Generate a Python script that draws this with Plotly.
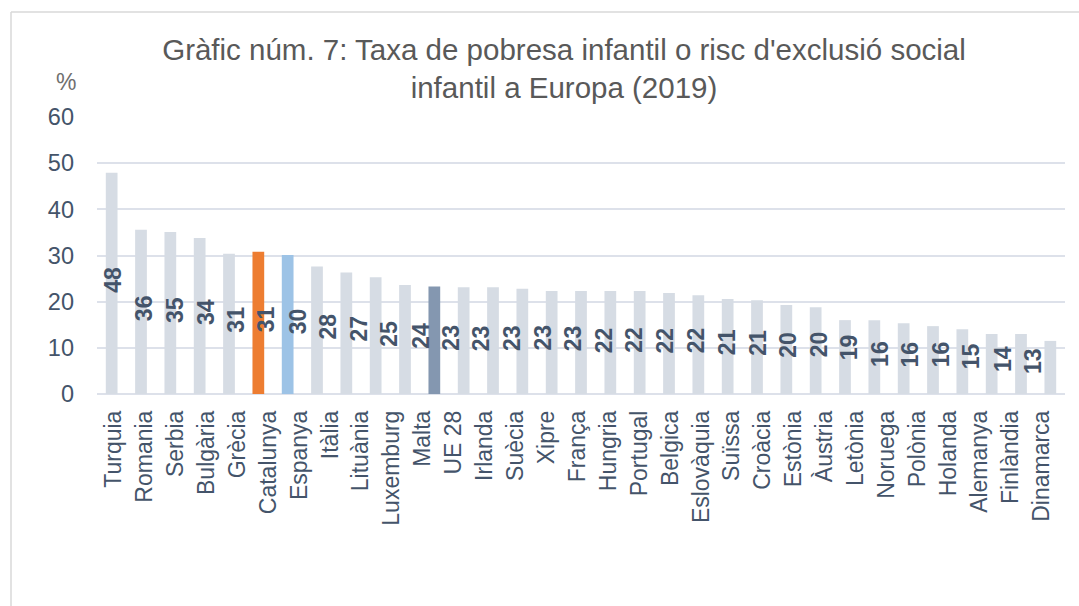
import plotly.graph_objects as go

# ---------------- data ----------------
countries = ["Turquia", "Romania", "Serbia", "Bulgària", "Grècia", "Catalunya", "Espanya",
             "Itàlia", "Lituània", "Luxemburg", "Malta", "UE 28", "Irlanda", "Suècia", "Xipre",
             "França", "Hungria", "Portugal", "Belgica", "Eslovàquia", "Suïssa", "Croàcia",
             "Estònia", "Àustria", "Letònia", "Noruega", "Polònia", "Holanda", "Alemanya",
             "Finlàndia", "Dinamarca"]
label_values = [48, 36, 35, 34, 31, 31, 30, 28, 27, 25, 24, 23, 23, 23, 23, 23, 22, 22, 22, 22,
                21, 21, 20, 20, 19, 16, 16, 16, 15, 14, 13]
bar_values = [47.9, 35.6, 35.1, 33.8, 30.4, 30.8, 30.1, 27.6, 26.3, 25.3, 23.6, 23.3, 23.1, 23.1,
              22.8, 22.3, 22.3, 22.3, 22.3, 21.9, 21.4, 20.6, 20.3, 19.3, 18.8, 16.0, 16.0, 15.3,
              14.7, 14.0, 13.0, 13.0, 11.5]
highlight = {5: "#ED7D31", 6: "#9DC3E6", 11: "#8497B0"}
y_ticks = [0, 10, 20, 30, 40, 50, 60]

# ---------------- layout constants ----------------
W, H = 1079, 606
L, R, T, B = 97, 14, 117, 212
PW, PH = W - L - R, H - T - B

def px_x(px):
    return (px - L) / PW

def px_y(py):
    return (H - B - py) / PH

base = "#D6DCE4"
colors = [highlight.get(i, base) for i in range(len(bar_values))]
txt = "#44546A"
font_family = "Liberation Sans, Arial, sans-serif"

fig = go.Figure()
fig.add_trace(go.Bar(x=list(range(len(bar_values))), y=bar_values, marker_color=colors,
                     marker_line_width=0, xaxis="x", yaxis="y", hoverinfo="skip"))
# invisible trace to anchor the category label axis
fig.add_trace(go.Scatter(x=list(range(len(countries))), y=[0] * len(countries), mode="markers",
                         marker=dict(opacity=0), xaxis="x2", yaxis="y", hoverinfo="skip"))

annotations = []
for i, v in enumerate(label_values):
    annotations.append(dict(x=i, y=v / 2, xref="x2", yref="y", text=f"<b>{v}</b>",
                            textangle=-90, showarrow=False, xshift=-0.27 * i, yshift=3,
                            xanchor="center", yanchor="middle",
                            font=dict(size=23, color=txt, family=font_family)))
annotations.append(dict(x=px_x(66), y=px_y(82), xref="paper", yref="paper", text="%",
                        showarrow=False, xanchor="center", yanchor="middle",
                        font=dict(size=23, color="#6F6F6F", family=font_family)))

shapes = [
    dict(type="line", xref="paper", yref="paper", x0=px_x(11), x1=px_x(W + 5),
         y0=px_y(12), y1=px_y(12), line=dict(color="#D9D9D9", width=1.5)),
    dict(type="line", xref="paper", yref="paper", x0=px_x(11), x1=px_x(11),
         y0=px_y(12), y1=px_y(H + 5), line=dict(color="#D9D9D9", width=1.5)),
]

fig.update_layout(
    width=W, height=H,
    margin=dict(l=L, r=R, t=T, b=B),
    paper_bgcolor="white", plot_bgcolor="white",
    showlegend=False,
    bargap=0.6,
    title=dict(text="Gràfic núm. 7: Taxa de pobresa infantil o risc d'exclusió social<br>infantil a Europa (2019)",
               x=564 / W, xref="container", xanchor="center",
               y=1 - 60 / H, yref="container", yanchor="top",
               font=dict(size=29.5, color="#595959", family=font_family)),
    xaxis=dict(range=[-0.5, len(bar_values) - 0.5], showticklabels=False, showgrid=False,
               zeroline=False, showline=False, fixedrange=True),
    xaxis2=dict(overlaying="x", anchor="y", side="bottom", range=[-0.537, 30.77],
                tickmode="array", tickvals=list(range(len(countries))), ticktext=countries,
                tickangle=-90, showgrid=False, zeroline=False, showline=False,
                ticklabelstandoff=11,
                tickfont=dict(size=23, color=txt, family=font_family)),
    yaxis=dict(range=[0, 60], tickmode="array", tickvals=y_ticks, showgrid=True,
               gridcolor="#DDE1EA", gridwidth=1.5, zeroline=True, zerolinecolor="#DDE1EA",
               zerolinewidth=1.5, showline=False, ticklabelstandoff=22,
               tickfont=dict(size=23.5, color=txt, family=font_family)),
    annotations=annotations,
    shapes=shapes,
)

fig.write_html("out.html", config={"displayModeBar": False},
               post_script="document.body.style.margin='0';")
